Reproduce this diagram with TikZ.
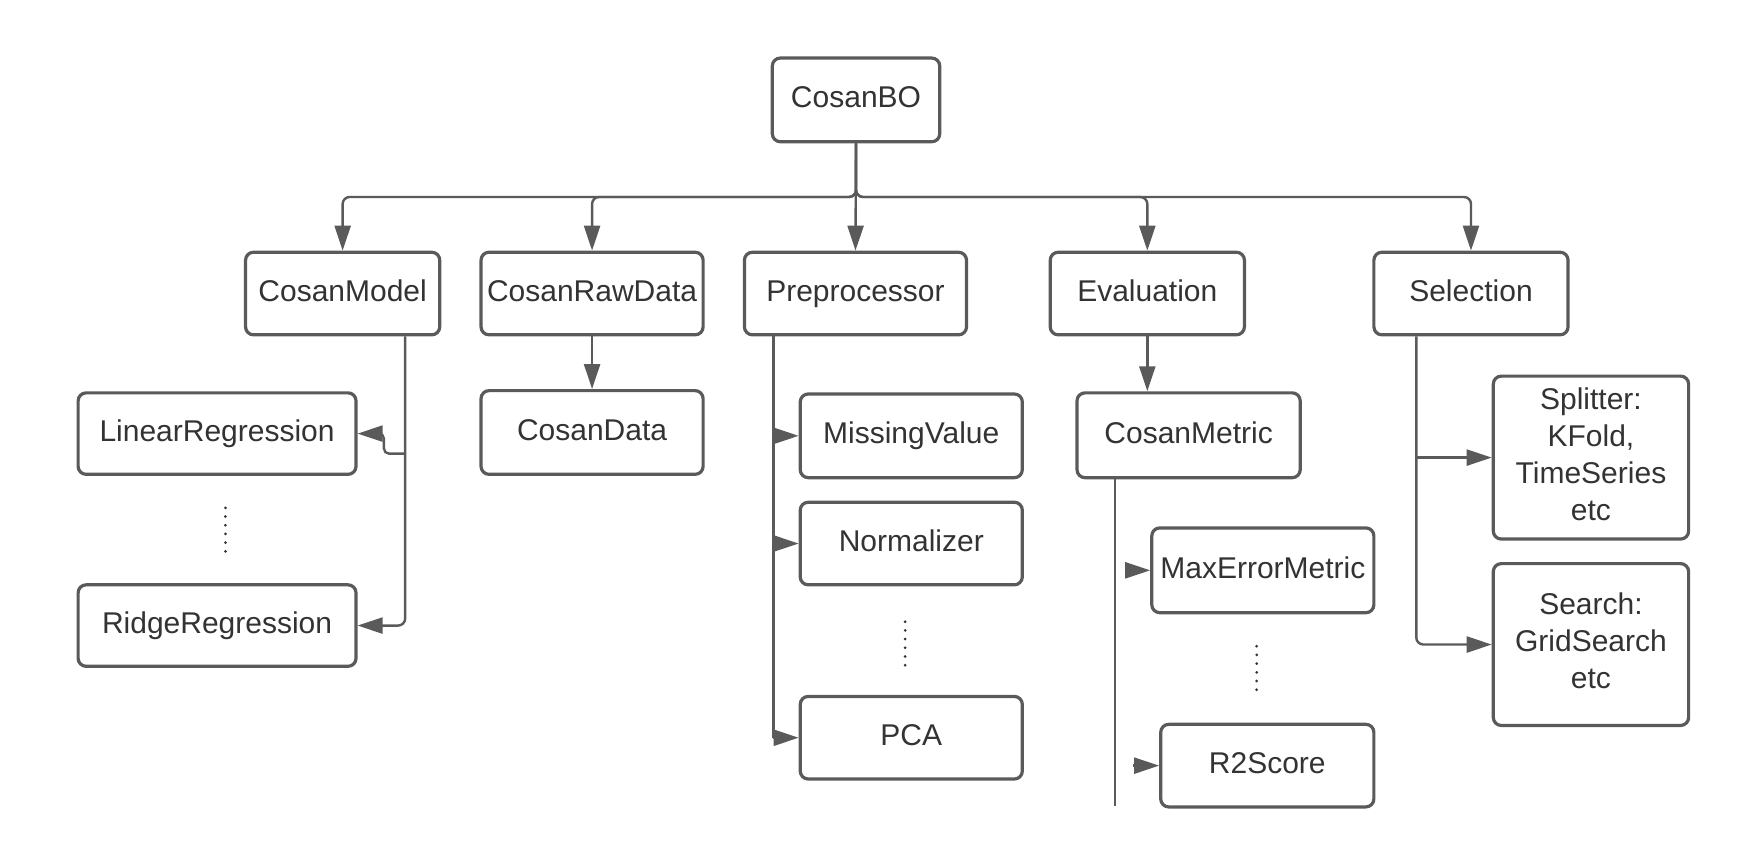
\documentclass[tikz,border=0pt]{standalone}
\usepackage{fontspec}
\setmainfont{Liberation Sans}
\usetikzlibrary{arrows.meta,calc}
\definecolor{ln}{HTML}{5A5A5A}
\definecolor{tx}{HTML}{333333}
\newcommand\mlines[1]{\begin{tabular}{@{}c@{}}#1\end{tabular}}
\begin{document}
\begin{tikzpicture}[x=1.116pt,y=-1.116pt,
  box/.style 2 args={draw=ln, line width=3.2pt, rounded corners=8pt, fill=white, text=tx,
    inner sep=0pt, minimum width=#1*1.116pt, minimum height=#2*1.116pt,
    font=\fontsize{30}{37}\selectfont},
  one/.style={text height=24pt, text depth=8pt},
  conn/.style={draw=ln, line width=2.4pt, -{Triangle[length=25pt,width=16pt]}},
  plain/.style={draw=ln, line width=2.4pt},
  dots/.style={draw=tx, line width=3pt, line cap=round, dash pattern=on 0pt off 8.7pt},
]
\useasboundingbox (0,0) rectangle (1568,760);
\node[box={150}{75}, one] (bo) at (767,89.5) {CosanBO};
\node[box={174}{74}, one] (model) at (307,263) {CosanModel};
\node[box={199}{74}, one] (raw) at (530.5,263) {CosanRawData};
\node[box={199}{74}, one] (pre) at (766.5,263) {Preprocessor};
\node[box={174}{74}, one] (eval) at (1028,263) {Evaluation};
\node[box={174}{74}, one] (sel) at (1318,263) {Selection};
\node[box={249}{73}, one] (lin) at (194.5,388.5) {LinearRegression};
\node[box={249}{73}, one] (ridge) at (194.5,560.5) {RidgeRegression};
\node[box={199}{75}, one] (data) at (530.5,387.5) {CosanData};
\node[box={199}{75}, one] (miss) at (816.5,390.5) {MissingValue};
\node[box={199}{74}, one] (norm) at (816.5,487) {Normalizer};
\node[box={199}{74}, one] (pca) at (816.5,661) {PCA};
\node[box={200}{76}, one] (metric) at (1065,390) {CosanMetric};
\node[box={199}{76}, one] (maxerr) at (1131.5,511) {MaxErrorMetric};
\node[box={191}{74}, one] (r2) at (1135.5,686) {R2Score};
\node[box={175}{146}] (split) at (1425.5,410) {\mlines{Splitter:\\KFold,\\TimeSeries\\etc}};
\node[box={175}{145}] (search) at (1425.5,577.5) {\mlines{Search:\\GridSearch\\etc}};

% bus from CosanBO
\coordinate (bus) at (767,176.5);
\draw[conn, rounded corners=7pt] (bo.south) |- (model.north |- bus) -- (model.north);
\draw[conn, rounded corners=7pt] (bo.south) |- (raw.north |- bus) -- (raw.north);
\draw[conn] (bo.south) -- (pre.north);
\draw[conn, rounded corners=7pt] (bo.south) |- (eval.north |- bus) -- (eval.north);
\draw[conn, rounded corners=7pt] (bo.south) |- (sel.north |- bus) -- (sel.north);

% CosanModel
\coordinate (mtop) at ($(model.south)+(56,0)$);
\coordinate (mjoin) at ($(model.south)+(56,105)$);
\draw[conn, rounded corners=7pt] (mtop) |- (ridge.east);
\draw[conn, rounded corners=5pt] (mjoin) -- ++(-19,0) |- (lin.east);
\draw[dots] (202,455) -- (202,495);

% CosanRawData
\draw[conn] (raw.south) -- (data.north);

% Preprocessor
\coordinate (ptop) at ($(pre.south)+(-73.5,0)$);
\draw[plain] (ptop) -- (ptop |- pca.west);
\draw[conn] (ptop |- miss.west) -- (miss.west);
\draw[conn] (ptop |- norm.west) -- (norm.west);
\draw[conn] (ptop |- pca.west) -- (pca.west);
\draw[dots] (811,557) -- (811,597);

% Evaluation
\draw[conn] (eval.south) -- (eval.south |- metric.north);
\coordinate (etop) at ($(metric.south)+(-66,0)$);
\coordinate (eend) at (999,722);
\draw[plain] (etop) -- (eend);
\draw[conn] ($(maxerr.west)+(-23,0)$) -- (maxerr.west);
\draw[conn] ($(r2.west)+(-23,0)$) -- (r2.west);
\draw[dots] (1126,579) -- (1126,619);

% Selection
\coordinate (stop) at ($(sel.south)+(-49,0)$);
\draw[conn] (stop |- split.west) -- (split.west);
\draw[conn, rounded corners=7pt] (stop) |- (search.west);
\end{tikzpicture}
\end{document}
